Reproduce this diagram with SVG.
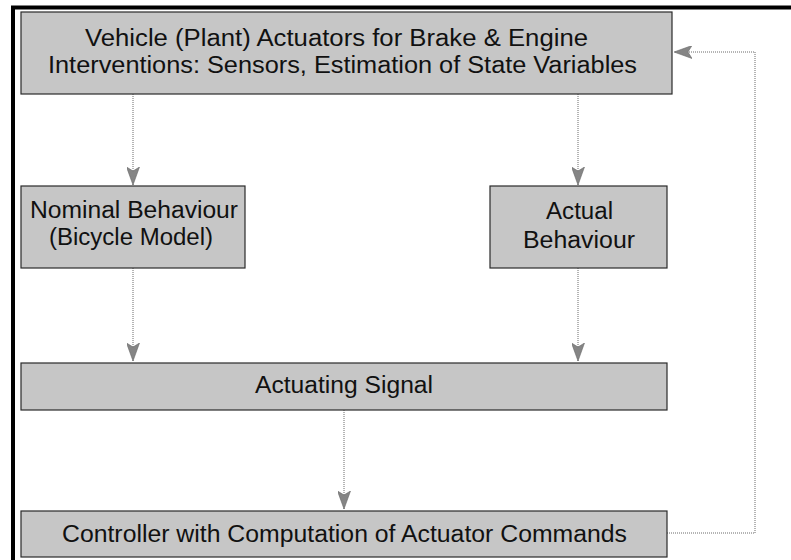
<svg xmlns="http://www.w3.org/2000/svg" width="791" height="560" viewBox="0 0 791 560">
  <style>
    .box { fill: #c6c6c6; stroke: #2a2a2a; stroke-width: 1.2; }
    .lbl { font-family: "Liberation Sans", Arial, sans-serif; font-size: 23.5px; fill: #111; text-anchor: middle; }
    .wire { fill: none; stroke: #6a6a6a; stroke-width: 1; stroke-dasharray: 1 1; }
  </style>
  <defs>
    <!-- arrowhead drawn along +x, rotated to follow each wire -->
    <marker id="head" viewBox="0 0 18 13" refX="18" refY="6.5" markerWidth="18" markerHeight="13" markerUnits="userSpaceOnUse" orient="auto">
      <path d="M0,0 L18,6.5 L0,13 L4,6.5 Z" fill="#858585" stroke="#6a6a6a" stroke-width="0.6"/>
    </marker>
  </defs>

  <!-- frame -->
  <rect x="0" y="0" width="791" height="560" fill="#fff"/>
  <path d="M13,560 L13,7.5 L791,7.5" fill="none" stroke="#000" stroke-width="4"/>

  <!-- connectors -->
  <g id="connectors">
    <line class="wire" x1="133" y1="94" x2="133" y2="185" marker-end="url(#head)"/>
    <line class="wire" x1="578" y1="94" x2="578" y2="185" marker-end="url(#head)"/>
    <line class="wire" x1="133" y1="268" x2="133" y2="361" marker-end="url(#head)"/>
    <line class="wire" x1="578" y1="268" x2="578" y2="361" marker-end="url(#head)"/>
    <line class="wire" x1="344" y1="410" x2="344" y2="509" marker-end="url(#head)"/>
    <polyline class="wire" points="667,533 755,533 755,52 674,52" marker-end="url(#head)"/>
  </g>

  <g id="plant">
    <rect class="box" x="21" y="12" width="651" height="82"/>
    <text class="lbl" x="336.5" y="46" textLength="503" lengthAdjust="spacingAndGlyphs">Vehicle (Plant) Actuators for Brake &amp; Engine</text>
    <text class="lbl" x="342.5" y="73" textLength="589" lengthAdjust="spacingAndGlyphs">Interventions: Sensors, Estimation of State Variables</text>
  </g>

  <g id="nominal">
    <rect class="box" x="21" y="186" width="224" height="82"/>
    <text class="lbl" x="134" y="218" textLength="208" lengthAdjust="spacingAndGlyphs">Nominal Behaviour</text>
    <text class="lbl" x="131" y="245" textLength="164" lengthAdjust="spacingAndGlyphs">(Bicycle Model)</text>
  </g>

  <g id="actual">
    <rect class="box" x="490" y="186" width="177" height="82"/>
    <text class="lbl" x="579.5" y="219" textLength="67" lengthAdjust="spacingAndGlyphs">Actual</text>
    <text class="lbl" x="579" y="248" textLength="112" lengthAdjust="spacingAndGlyphs">Behaviour</text>
  </g>

  <g id="signal">
    <rect class="box" x="21" y="363" width="646" height="47"/>
    <text class="lbl" x="344" y="393" textLength="178" lengthAdjust="spacingAndGlyphs">Actuating Signal</text>
  </g>

  <g id="controller">
    <rect class="box" x="21" y="511" width="646" height="46"/>
    <text class="lbl" x="344.5" y="542" textLength="565" lengthAdjust="spacingAndGlyphs">Controller with Computation of Actuator Commands</text>
  </g>
</svg>
